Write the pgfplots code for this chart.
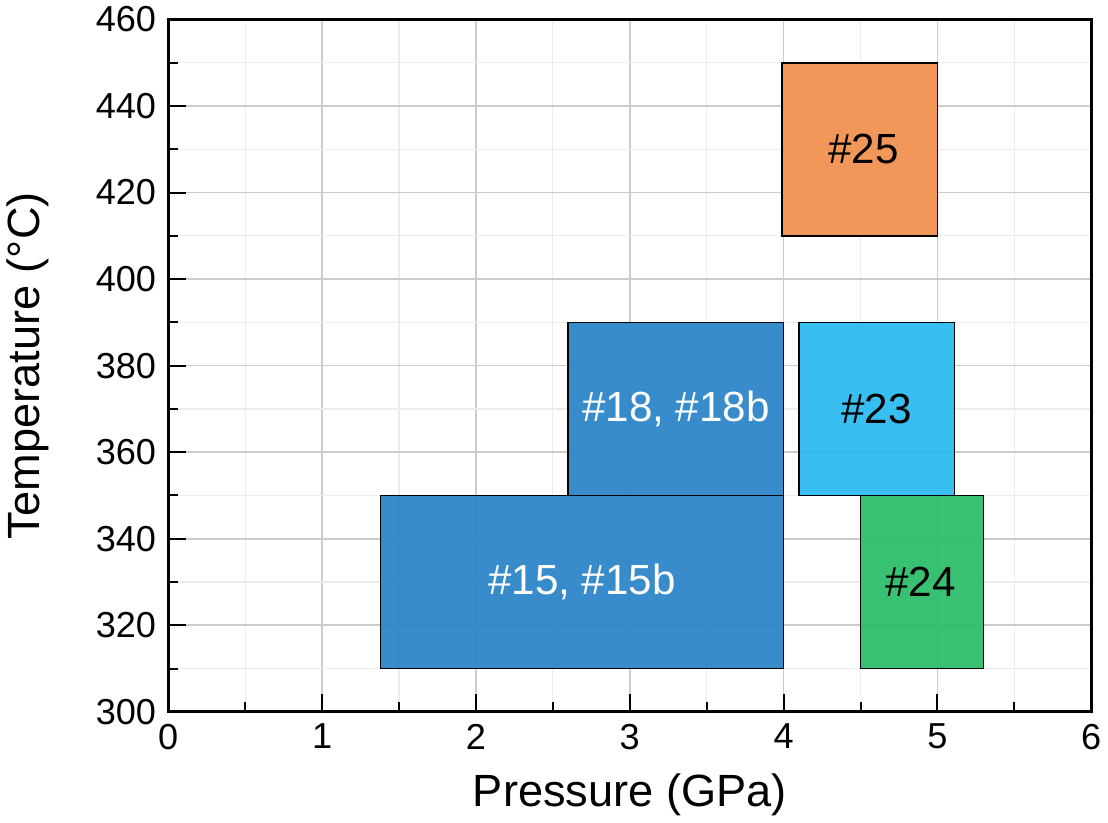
\documentclass[border=0pt]{standalone}
\usepackage{pgfplots}
\pgfplotsset{compat=1.18}
\usepackage{fontspec}
\setmainfont{Liberation Sans}
\definecolor{cblue}{HTML}{2E86C8}
\definecolor{clight}{HTML}{2DBAF0}
\definecolor{cgreen}{HTML}{2DBD6C}
\definecolor{corange}{HTML}{F09150}
\begin{document}
\begin{tikzpicture}
\begin{axis}[
  width=460pt, height=345pt, scale only axis,
  xmin=0, xmax=6, ymin=300, ymax=460,
  xtick={0,1,2,3,4,5,6}, ytick={300,320,...,460},
  minor x tick num=1, minor y tick num=1,
  tick pos=left, tick align=inside,
  major tick length=9pt, minor tick length=5pt,
  every tick/.style={black, line width=1pt},
  axis line style={black, line width=1.3pt},
  grid=both,
  major grid style={gray!40, line width=0.8pt},
  minor grid style={gray!15, line width=0.6pt},
  /pgf/number format/assume math mode=true,
  ticklabel style={font=\fontsize{18}{20}\selectfont},
  xticklabel style={yshift=-2.5pt},
  yticklabel style={xshift=-2.5pt},
  xlabel={Pressure (GPa)}, ylabel={Temperature (°C)},
  label style={font=\fontsize{22.5}{25}\selectfont},
  xlabel style={at={([yshift=-41.5pt]axis description cs:0.5,0)}, anchor=center},
  ylabel style={at={([xshift=-70pt]axis description cs:0,0.5)}, anchor=center, rotate=0},
]
\addplot[fill=cblue, fill opacity=0.95, draw=black, line width=0.8pt] coordinates {(1.38,310) (4.0,310) (4.0,350) (1.38,350)} -- cycle;
\addplot[fill=cblue, fill opacity=0.95, draw=black, line width=0.8pt] coordinates {(2.6,350) (4.0,350) (4.0,390) (2.6,390)} -- cycle;
\addplot[fill=clight, fill opacity=0.95, draw=black, line width=0.8pt] coordinates {(4.1,350) (5.11,350) (5.11,390) (4.1,390)} -- cycle;
\addplot[fill=cgreen, fill opacity=0.95, draw=black, line width=0.8pt] coordinates {(4.5,310) (5.3,310) (5.3,350) (4.5,350)} -- cycle;
\addplot[fill=corange, fill opacity=0.95, draw=black, line width=0.8pt] coordinates {(3.99,410) (5.0,410) (5.0,450) (3.99,450)} -- cycle;
\node[white, font=\fontsize{21}{23}\selectfont] at (axis cs:2.69,330) {\#15, \#15b};
\node[white, font=\fontsize{21}{23}\selectfont] at (axis cs:3.3,370) {\#18, \#18b};
\node[black, font=\fontsize{21}{23}\selectfont] at (axis cs:4.605,370) {\#23};
\node[black, font=\fontsize{21}{23}\selectfont] at (axis cs:4.89,330) {\#24};
\node[black, font=\fontsize{21}{23}\selectfont] at (axis cs:4.52,430) {\#25};
\end{axis}
\end{tikzpicture}
\end{document}
